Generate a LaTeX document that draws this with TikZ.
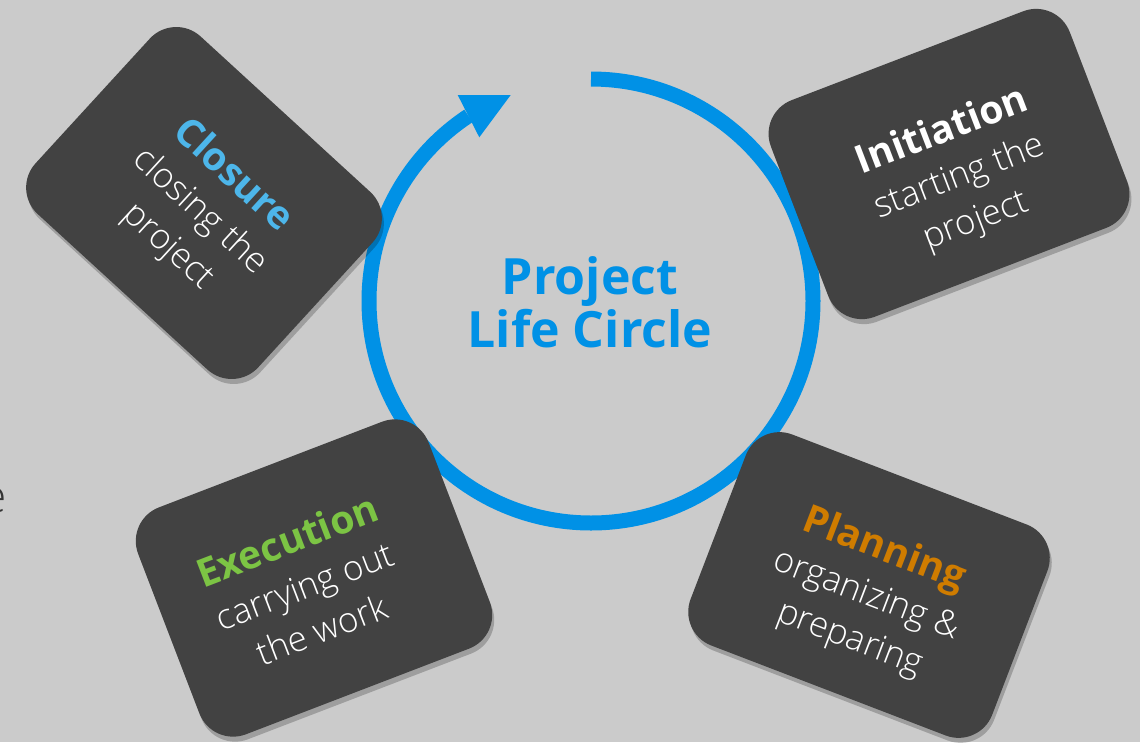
\documentclass[tikz,border=0pt]{standalone}
\usepackage{fontspec}
\setmainfont{Open Sans}
\newfontfamily\lightfont{Open Sans Light}
\usetikzlibrary{shadows,calc}
\definecolor{bg}{HTML}{CBCBCB}
\definecolor{boxgray}{HTML}{424242}
\definecolor{ringblue}{HTML}{0091E6}
\definecolor{closeblue}{HTML}{4DB6EA}
\definecolor{execgreen}{HTML}{7CC444}
\definecolor{planorange}{HTML}{CF7C00}
\definecolor{edgetext}{HTML}{333333}
\newcommand\phtitle{\normalfont\bfseries\fontsize{39}{47}\selectfont}
\begin{document}
\begin{tikzpicture}[x=1pt,y=-1pt,
  phasebox/.style={rounded corners=36pt, fill=boxgray, draw=none, inner sep=0pt,
    drop shadow={shadow xshift=2pt, shadow yshift=-5pt, opacity=0.22, fill=black}},
  phasetext/.style={inner sep=0pt, text=white, align=center,
    font=\lightfont\fontsize{35}{47}\selectfont},
  ring/.style={draw=ringblue, line width=15pt}
]
\useasboundingbox[fill=bg] (0,0) rectangle (1140,742);
\clip (0,0) rectangle (1140,742);

% ring
\coordinate (c) at (591,301);
\draw[ring] ([shift={(-90:222)}]c) arc[start angle=-90, end angle=236.5, radius=222];
\fill[ringblue] (457.7,95) -- (510.7,95) -- (479.3,137.3) -- cycle;

\node[text=ringblue, align=center, font=\bfseries\fontsize{50}{53}\selectfont] (title) at (590,302) {Project\\Life Circle};

% boxes
\node[phasebox, minimum width=302pt, minimum height=241pt, rotate=-42.5] (closure) at (204,203) {};
\node[phasetext, rotate=-42.5] (closuretext) at ($(closure.center)+(-3,8)$)
  {{\phtitle\color{closeblue}Closure}\\closing the\\project};

\node[phasebox, minimum width=320pt, minimum height=232pt, rotate=21] (init) at (949,164) {};
\node[phasetext, rotate=21] (inittext) at ($(init.center)+(10,12)$)
  {{\phtitle Initiation}\\starting the\\project};

\node[phasebox, minimum width=311pt, minimum height=243pt, rotate=21] (exec) at (314,578) {};
\node[phasetext, rotate=21] (exectext) at ($(exec.center)+(-10,6)$)
  {{\phtitle\color{execgreen}Execution}\\carrying out\\the work};

\node[phasebox, minimum width=323pt, minimum height=226pt, rotate=-21] (plan) at (869,585) {};
\node[phasetext, rotate=-21] (plantext) at ($(plan.center)+(-2,9)$)
  {{\phtitle\color{planorange}Planning}\\organizing \&\\preparing};

\node[text=edgetext, font=\lightfont\fontsize{46}{46}\selectfont, anchor=base east, inner sep=0pt] (edgee) at (7,512) {e};
\end{tikzpicture}
\end{document}
